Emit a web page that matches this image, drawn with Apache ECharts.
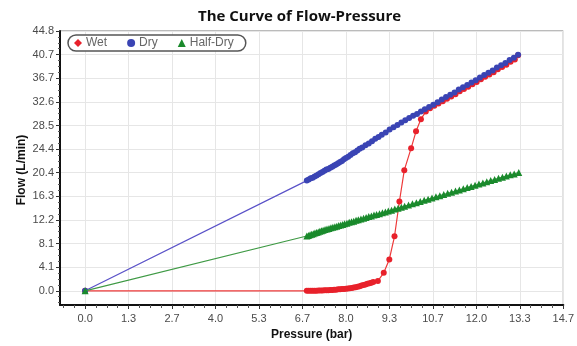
<!DOCTYPE html>
<html>
<head>
<meta charset="utf-8">
<script src="https://cdn.jsdelivr.net/npm/echarts@6/dist/echarts.min.js"></script>
<style>
  html, body { margin: 0; padding: 0; background: #fff; }
  #chart { width: 577px; height: 346px; }
</style>
</head>
<body>
<div id="chart"></div>
<script>
// tick values (labels are shown with one decimal)
var xTicks = [0, 1.3333, 2.6667, 4, 5.3333, 6.6667, 8, 9.3333, 10.6667, 12, 13.3333, 14.6667];
var yTicks = [0, 4.0727, 8.1455, 12.2182, 16.2909, 20.3636, 24.4364, 28.5091, 32.5818, 36.6545, 40.7273, 44.8];

// Wet
var wetPressure = [0, 6.80, 6.86, 6.92, 6.98, 7.04, 7.10, 7.16, 7.22, 7.28, 7.34, 7.40, 7.46, 7.52, 7.58, 7.64, 7.70, 7.76, 7.82, 7.88, 7.94, 8.00, 8.06, 8.12, 8.18, 8.24, 8.30, 8.36, 8.42, 8.48, 8.54, 8.60, 8.66, 8.72, 8.78, 8.84, 8.98, 9.16, 9.33, 9.49, 9.64, 9.79, 10.00, 10.15, 10.30, 10.45, 10.58, 10.71, 10.84, 10.97, 11.10, 11.23, 11.36, 11.49, 11.62, 11.75, 11.88, 12.01, 12.14, 12.27, 12.40, 12.53, 12.66, 12.79, 12.92, 13.05, 13.18, 13.28];
var wetFlow     = [0, 0.00, 0.00, 0.00, 0.00, 0.00, 0.00, 0.05, 0.05, 0.05, 0.10, 0.10, 0.10, 0.15, 0.15, 0.20, 0.20, 0.25, 0.25, 0.30, 0.30, 0.35, 0.40, 0.45, 0.50, 0.55, 0.60, 0.70, 0.80, 0.90, 1.00, 1.10, 1.20, 1.30, 1.40, 1.50, 1.70, 3.10, 5.40, 9.40, 15.40, 20.80, 24.60, 27.50, 29.60, 30.90, 31.50, 31.90, 32.30, 32.70, 33.10, 33.50, 33.90, 34.40, 34.80, 35.20, 35.60, 36.00, 36.50, 36.90, 37.30, 37.70, 38.20, 38.60, 39.00, 39.50, 39.90, 40.60];

// Dry
var dryPressure = [0, 6.80, 6.86, 6.92, 6.98, 7.04, 7.10, 7.16, 7.22, 7.28, 7.34, 7.40, 7.46, 7.52, 7.58, 7.64, 7.70, 7.76, 7.82, 7.88, 7.94, 8.00, 8.07, 8.14, 8.21, 8.28, 8.35, 8.42, 8.50, 8.60, 8.70, 8.80, 8.90, 9.00, 9.10, 9.22, 9.34, 9.46, 9.58, 9.70, 9.82, 9.94, 10.06, 10.18, 10.30, 10.42, 10.55, 10.68, 10.81, 10.94, 11.07, 11.20, 11.33, 11.46, 11.59, 11.72, 11.85, 11.98, 12.11, 12.24, 12.37, 12.50, 12.63, 12.76, 12.89, 13.02, 13.15, 13.28];
var dryFlow     = [0, 19.0, 19.2, 19.4, 19.5, 19.7, 19.9, 20.1, 20.3, 20.5, 20.7, 20.9, 21.0, 21.2, 21.4, 21.6, 21.8, 22.0, 22.2, 22.4, 22.7, 22.9, 23.1, 23.4, 23.7, 23.9, 24.2, 24.5, 24.7, 25.1, 25.4, 25.8, 26.2, 26.5, 26.9, 27.3, 27.8, 28.2, 28.6, 29.0, 29.4, 29.8, 30.2, 30.5, 30.9, 31.3, 31.7, 32.1, 32.5, 33.0, 33.4, 33.8, 34.2, 34.7, 35.1, 35.5, 35.9, 36.3, 36.8, 37.2, 37.6, 38.0, 38.5, 38.9, 39.3, 39.8, 40.2, 40.7];

// Half-Dry
var halfPressure = [0, 6.80, 6.85, 6.90, 6.95, 7.00, 7.05, 7.10, 7.15, 7.20, 7.25, 7.30, 7.36, 7.42, 7.48, 7.54, 7.60, 7.66, 7.72, 7.78, 7.84, 7.90, 7.96, 8.03, 8.10, 8.17, 8.24, 8.31, 8.38, 8.46, 8.54, 8.62, 8.70, 8.78, 8.86, 8.94, 9.03, 9.12, 9.21, 9.30, 9.40, 9.50, 9.60, 9.70, 9.80, 9.92, 10.04, 10.16, 10.28, 10.40, 10.52, 10.64, 10.76, 10.88, 11.00, 11.12, 11.24, 11.36, 11.48, 11.60, 11.72, 11.84, 11.96, 12.08, 12.20, 12.32, 12.44, 12.56, 12.68, 12.80, 12.92, 13.04, 13.16, 13.30];
var halfFlow     = [0, 9.45, 9.55, 9.65, 9.75, 9.85, 9.95, 10.05, 10.15, 10.25, 10.35, 10.45, 10.55, 10.65, 10.75, 10.85, 10.95, 11.05, 11.15, 11.25, 11.35, 11.45, 11.55, 11.65, 11.80, 11.90, 12.00, 12.15, 12.25, 12.40, 12.50, 12.65, 12.80, 12.90, 13.05, 13.15, 13.30, 13.45, 13.60, 13.75, 13.90, 14.10, 14.25, 14.40, 14.60, 14.80, 15.00, 15.20, 15.40, 15.60, 15.80, 16.00, 16.20, 16.40, 16.60, 16.80, 17.00, 17.20, 17.40, 17.60, 17.80, 18.00, 18.20, 18.40, 18.60, 18.80, 19.00, 19.20, 19.40, 19.60, 19.80, 20.00, 20.15, 20.40];

function zip(a, b) {
  return a.map(function (v, i) { return [v, b[i]]; });
}

// 3 minor ticks between major ticks
function minors(ticks, lo) {
  var out = [];
  var step = (ticks[1] - ticks[0]) / 4;
  for (var v = ticks[0] - step; v > lo; v -= step) out.push(v);
  for (var i = 0; i < ticks.length - 1; i++) {
    for (var k = 1; k < 4; k++) out.push(ticks[i] + step * k);
  }
  return out;
}

var X_MIN = -0.77, X_MAX = 14.6667;
var Y_MIN = -2.45, Y_MAX = 44.8;

var labelStyle = { color: '#4a4a4a', fontSize: 11, fontFamily: 'Liberation Sans' };

var option = {
  animation: false,
  title: {
    text: 'The Curve of Flow-Pressure',
    left: 193, top: 4,
    textStyle: { fontFamily: 'Open Sans', fontWeight: 'bold', fontSize: 15, color: '#111' }
  },
  // y axis title, placed by hand like the original
  graphic: [{
    type: 'text', x: 22, y: 170, rotation: Math.PI / 2,
    style: { text: 'Flow (L/min)', fill: '#111', font: 'bold 12px "Liberation Sans"', align: 'center', verticalAlign: 'middle' }
  }],
  legend: {
    left: 68, top: 35,
    orient: 'horizontal',
    padding: [2, 12, 2, 6],
    itemGap: 20,
    itemWidth: 8, itemHeight: 8,
    borderColor: '#555', borderWidth: 1.5, borderRadius: 8,
    backgroundColor: '#fff',
    textStyle: { color: '#666', fontSize: 12, fontFamily: 'Liberation Sans', padding: [0, 0, 0, -1] },
    data: [
      { name: 'Wet', icon: 'diamond' },
      { name: 'Dry', icon: 'circle' },
      { name: 'Half-Dry', icon: 'triangle' }
    ]
  },
  grid: {
    left: 60, right: 10, top: 31, bottom: 39,
    show: true, borderColor: '#777', borderWidth: 1
  },
  xAxis: [{
    type: 'value', min: X_MIN, max: X_MAX,
    name: 'Pressure (bar)', nameLocation: 'middle', nameGap: 24,
    nameTextStyle: { fontWeight: 'bold', fontSize: 12, color: '#111', fontFamily: 'Liberation Sans' },
    axisLine: { onZero: false, lineStyle: { color: '#111', width: 2 } },
    axisTick: { customValues: xTicks, length: 4, lineStyle: { color: '#333' } },
    axisLabel: Object.assign({ customValues: xTicks, margin: 8, formatter: function (v) { return v.toFixed(1); } }, labelStyle),
    splitLine: { show: true, lineStyle: { color: '#e6e6e6' } }
  }, {
    type: 'value', min: X_MIN, max: X_MAX, position: 'bottom',
    axisLine: { show: false, onZero: false },
    axisTick: { customValues: minors(xTicks, X_MIN), length: 3, lineStyle: { color: '#555' } },
    axisLabel: { show: false },
    splitLine: { show: false }
  }],
  yAxis: [{
    type: 'value', min: Y_MIN, max: Y_MAX,
    axisLine: { show: true, onZero: false, lineStyle: { color: '#111', width: 2 } },
    axisTick: { show: true, customValues: yTicks, length: 4, lineStyle: { color: '#333' } },
    axisLabel: Object.assign({ customValues: yTicks, margin: 6, formatter: function (v) { return v.toFixed(1); } }, labelStyle),
    splitLine: { show: true, lineStyle: { color: '#e6e6e6' } }
  }, {
    type: 'value', min: Y_MIN, max: Y_MAX, position: 'left',
    axisLine: { show: false, onZero: false },
    axisTick: { show: true, customValues: minors(yTicks, Y_MIN), length: 2, lineStyle: { color: '#555' } },
    axisLabel: { show: false },
    splitLine: { show: false }
  }],
  series: [{
    name: 'Wet', type: 'line',
    data: zip(wetPressure, wetFlow),
    symbol: 'circle', symbolSize: 6,
    itemStyle: { color: '#e8212b' },
    lineStyle: { color: '#ee3a3a', width: 1.2 },
    z: 2
  }, {
    name: 'Dry', type: 'line',
    data: zip(dryPressure, dryFlow),
    symbol: 'circle', symbolSize: 6,
    itemStyle: { color: '#3a44b4' },
    lineStyle: { color: '#5a52c8', width: 1.2 },
    z: 3
  }, {
    name: 'Half-Dry', type: 'line',
    data: zip(halfPressure, halfFlow),
    symbol: 'triangle', symbolSize: 7,
    itemStyle: { color: '#1a8a2c' },
    lineStyle: { color: '#3f9a45', width: 1.2 },
    z: 4
  }]
};

var myChart = echarts.init(document.getElementById('chart'));
myChart.setOption(option);
</script>
</body>
</html>
